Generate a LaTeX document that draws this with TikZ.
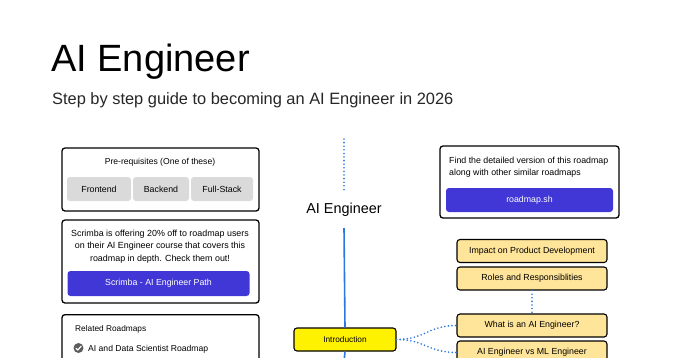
\documentclass[tikz,border=0pt]{standalone}
\usepackage{fontspec}
\setmainfont{Liberation Sans}
\begin{document}
\begin{tikzpicture}[x=1pt,y=-1pt,
  card/.style={draw=black, line width=1.3pt, rounded corners=3pt, fill=white, inner sep=0pt},
  graybtn/.style={fill=btngray, rounded corners=3pt, inner sep=0pt, font=\fontsize{8.8}{10}\selectfont},
  purplebtn/.style={fill=btnpurple, rounded corners=3pt, inner sep=0pt, text=white, font=\fontsize{8.8}{10}\selectfont},
  topic/.style={draw=black, line width=1.1pt, rounded corners=3pt, fill=topictan, inner sep=0pt, minimum width=150pt, minimum height=23pt, font=\fontsize{8.8}{10}\selectfont},
  maintopic/.style={draw=black, line width=1.1pt, rounded corners=3pt, fill=yellow, inner sep=0pt, minimum width=102pt, minimum height=23pt, font=\fontsize{8.3}{10}\selectfont},
  dottedblue/.style={draw=lineblue, line width=1.8pt, line cap=round, dash pattern=on 0pt off 3.6pt},
  solidblue/.style={draw=lineblue, line width=1.6pt},
  plain/.style={inner sep=0pt}
]
\definecolor{btngray}{HTML}{DADADA}
\definecolor{btnpurple}{HTML}{4136D6}
\definecolor{topictan}{HTML}{FFE599}
\definecolor{lineblue}{HTML}{2B78E4}
\definecolor{checkgray}{HTML}{5C5C5C}
\useasboundingbox (0,0) rectangle (680,357);
\clip (0,0) rectangle (680,357);
\fill[white] (0,0) rectangle (680,357);

% Title
\node[plain, anchor=base west, font=\fontsize{38}{40}\selectfont] (title) at (51,71) {AI Engineer};
\node[plain, anchor=base west, font=\fontsize{16.4}{18}\selectfont, text=black!85] (subtitle) at (52,104) {Step by step guide to becoming an AI Engineer in 2026};

% Left cards
\node[card, minimum width=197pt, minimum height=63pt] (prereq) at (160.5,179.5) {};
\node[plain, font=\fontsize{8.6}{10}\selectfont] (prereqtxt) at (160,162) {Pre-requisites (One of these)};
\node[graybtn, minimum width=64pt, minimum height=24pt] (frontend) at (99,189) {Frontend};
\node[graybtn, minimum width=56pt, minimum height=24pt] (backend) at (161,189) {Backend};
\node[graybtn, minimum width=62pt, minimum height=24pt] (fullstack) at (222,189) {Full-Stack};

\node[card, minimum width=197pt, minimum height=83pt] (scrimba) at (160.5,261.5) {};
\node[plain, align=center, font=\fontsize{8.9}{12.6}\selectfont] (scrimbatxt) at (160,246.5) {Scrimba is offering 20\% off to roadmap users\\on their AI Engineer course that covers this\\roadmap in depth. Check them out!};
\node[purplebtn, minimum width=182pt, minimum height=25pt] (scrimbabtn) at (158.5,283.5) {Scrimba - AI Engineer Path};

\node[card, minimum width=197pt, minimum height=70pt, anchor=north] (related) at (160.5,314) {};
\node[plain, anchor=base west, font=\fontsize{8.3}{10}\selectfont] (relatedtxt) at (75,331) {Related Roadmaps};
\fill[checkgray] (78.5,348) circle (5pt);
\draw[white, line width=1.2pt, line cap=round, line join=round] (76,348.2) -- (77.8,350) -- (81.2,346.2);
\node[plain, anchor=base west, font=\fontsize{8.6}{10}\selectfont] (aids) at (88,351) {AI and Data Scientist Roadmap};

% Right card
\node[card, minimum width=179pt, minimum height=72pt] (rmcard) at (529.5,182) {};
\node[plain, anchor=west, align=left, font=\fontsize{8.8}{12}\selectfont] (rmtxt) at (449,167) {Find the detailed version of this roadmap\\along with other similar roadmaps};
\node[purplebtn, minimum width=167pt, minimum height=24pt] (rmbtn) at (529.5,200) {roadmap.sh};

% Center spine
\coordinate (spinetop) at (344,139);
\coordinate (spinedotend) at (344,190);
\node[plain, font=\fontsize{14.4}{16}\selectfont] (aieng) at (344,210) {AI Engineer};
\coordinate (aiengbottom) at (344,228);
\node[maintopic] (intro) at (345,339.5) {Introduction};
\coordinate (spinebottom) at (344,362);

\draw[dottedblue] (spinetop) -- (spinedotend);
\draw[solidblue] (aiengbottom) -- (intro.north);
\draw[solidblue] (intro.south) -- (spinebottom);

% Right topics
\node[topic] (impact) at (532,251) {Impact on Product Development};
\node[topic] (roles) at (532,278.5) {Roles and Responsiblities};
\node[topic] (whatis) at (532,325.5) {What is an AI Engineer?};
\node[topic] (vsml) at (532,352.5) {AI Engineer vs ML Engineer};

\draw[dottedblue] (roles.south) -- (whatis.north);
\draw[dottedblue] (intro.east) .. controls (425,339.5) and (428,325.5) .. (whatis.west);
\draw[dottedblue] (intro.east) .. controls (425,339.5) and (428,352.5) .. (vsml.west);
\end{tikzpicture}
\end{document}
